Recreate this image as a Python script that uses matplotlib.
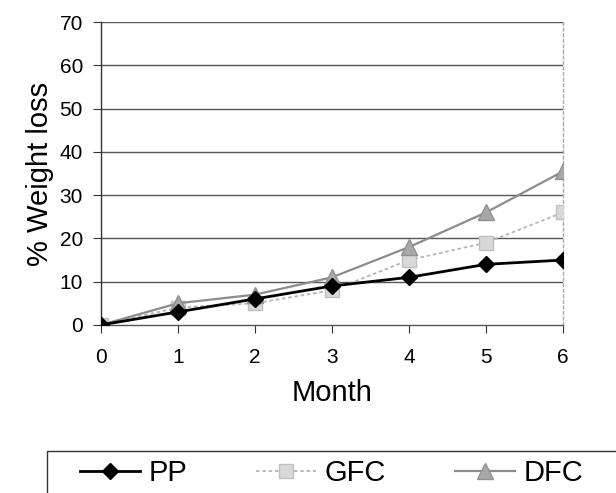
import matplotlib
matplotlib.use("Agg")
import matplotlib.pyplot as plt
from matplotlib.patches import Rectangle

plt.rcParams['font.family'] = ['Liberation Sans', 'DejaVu Sans']

months = [0, 1, 2, 3, 4, 5, 6]
pp = [0, 3, 6, 9, 11, 14, 15]
gfc = [0, 4, 5, 8, 15, 19, 26]
dfc = [0, 5, 7, 11, 18, 26, 35.5]
y_ticks = [0, 10, 20, 30, 40, 50, 60, 70]


def main():
    fig = plt.figure(figsize=(6.16, 4.93), dpi=100)
    ax = fig.add_axes([0.164, 0.341, 0.75, 0.614])

    for y in y_ticks[1:]:
        ax.axhline(y, color='#555555', lw=1, zorder=1)

    ax.plot(months, pp, color='black', lw=2, marker='D', ms=8.5,
            mfc='black', mec='black', label='PP', zorder=4)
    ax.plot(months, gfc, color='#b5b5b5', lw=1.3, ls=(0, (2, 1.5)), marker='s', ms=9.5,
            mfc='#d8d8d8', mec='#c0c0c0', label='GFC', zorder=3)
    ax.plot(months, dfc, color='#8c8c8c', lw=1.6, marker='^', ms=11.5,
            mfc='#a8a8a8', mec='#909090', label='DFC', zorder=3)

    ax.set_xlim(0, 6)
    ax.set_ylim(0, 70)
    ax.set_xticks(months)
    ax.set_yticks(y_ticks)
    ax.tick_params(axis='both', labelsize=15, direction='out', length=6,
                   color='#333333')
    ax.tick_params(axis='x', pad=11)
    ax.tick_params(axis='y', pad=7)

    ax.spines['top'].set_visible(False)
    ax.spines['right'].set_color('#aaaaaa')
    ax.spines['right'].set_linestyle((0, (2, 2)))
    ax.spines['left'].set_color('#333333')
    ax.spines['bottom'].set_color('#555555')
    for s in ax.spines.values():
        s.set_linewidth(1)

    ax.set_xlabel('Month', fontsize=21, labelpad=8)
    ax.set_ylabel('% Weight loss', fontsize=21, labelpad=4)

    # box around the legend, running off the right and bottom edges
    fig.patches.append(Rectangle((47 / 616, -0.05), 1.0, (493 - 451) / 493 + 0.05,
                                 transform=fig.transFigure, fill=False,
                                 edgecolor='#333333', lw=1))
    fig.legend(loc='center left', bbox_to_anchor=(0.088, 0.04), ncol=3,
               frameon=False, fontsize=21, handlelength=2.05, columnspacing=2.35,
               handletextpad=0.3)

    fig.savefig('out.png', dpi=100)


if __name__ == "__main__":
    main()
